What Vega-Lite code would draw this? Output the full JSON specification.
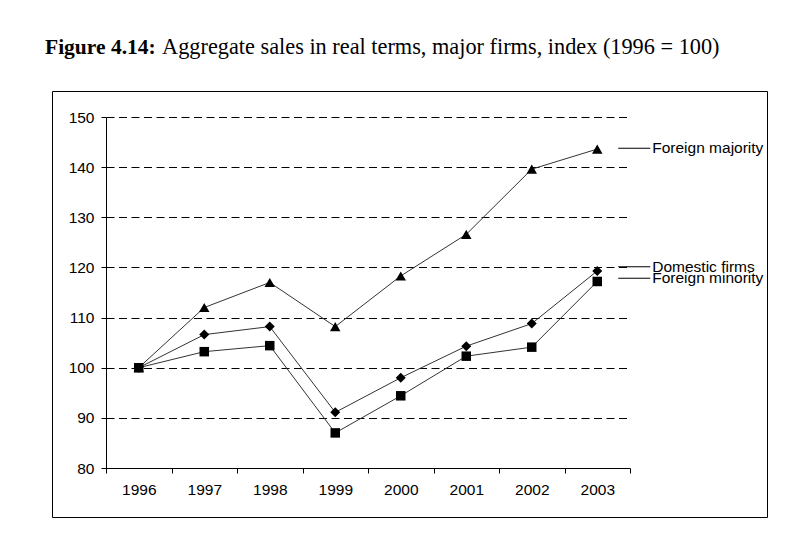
{
  "$schema": "https://vega.github.io/schema/vega-lite/v6.json",
  "width": 715,
  "height": 426,
  "autosize": {"type": "none"},
  "padding": {"left": 52, "top": 91, "right": 28, "bottom": 29},
  "background": "white",
  "config": {
    "view": {"stroke": "black", "strokeWidth": 1},
    "axis": {"labelFont": "Liberation Sans", "labelFontSize": 15.5, "labelColor": "black", "domainColor": "black", "tickColor": "black", "domainWidth": 1, "tickWidth": 1, "tickSize": 5}
  },
  "title": {
    "text": "Figure 4.14:",
    "subtitle": "\u200b\u2003\u2003\u2003\u2003\u2003\u00a0Aggregate sales in real terms, major firms, index (1996 = 100)",
    "anchor": "start",
    "frame": "group",
    "font": "Liberation Serif",
    "fontSize": 21.5,
    "fontWeight": "bold",
    "color": "black",
    "subtitleFont": "Liberation Serif",
    "subtitleFontSize": 22.3,
    "subtitleFontWeight": "normal",
    "subtitleColor": "black",
    "subtitlePadding": -22,
    "offset": 32,
    "dx": -7
  },
  "datasets": {
    "series": [
      {"year": "1996", "series": "Foreign majority", "value": 100},
      {"year": "1997", "series": "Foreign majority", "value": 112},
      {"year": "1998", "series": "Foreign majority", "value": 117},
      {"year": "1999", "series": "Foreign majority", "value": 108.2},
      {"year": "2000", "series": "Foreign majority", "value": 118.3},
      {"year": "2001", "series": "Foreign majority", "value": 126.6},
      {"year": "2002", "series": "Foreign majority", "value": 139.6},
      {"year": "2003", "series": "Foreign majority", "value": 143.6},
      {"year": "1996", "series": "Domestic firms", "value": 100},
      {"year": "1997", "series": "Domestic firms", "value": 106.6},
      {"year": "1998", "series": "Domestic firms", "value": 108.2},
      {"year": "1999", "series": "Domestic firms", "value": 91.1},
      {"year": "2000", "series": "Domestic firms", "value": 98},
      {"year": "2001", "series": "Domestic firms", "value": 104.3},
      {"year": "2002", "series": "Domestic firms", "value": 108.8},
      {"year": "2003", "series": "Domestic firms", "value": 119.3},
      {"year": "1996", "series": "Foreign minority", "value": 100},
      {"year": "1997", "series": "Foreign minority", "value": 103.2},
      {"year": "1998", "series": "Foreign minority", "value": 104.4},
      {"year": "1999", "series": "Foreign minority", "value": 87},
      {"year": "2000", "series": "Foreign minority", "value": 94.4},
      {"year": "2001", "series": "Foreign minority", "value": 102.3},
      {"year": "2002", "series": "Foreign minority", "value": 104.1},
      {"year": "2003", "series": "Foreign minority", "value": 117.2}
    ],
    "labels": [
      {"year": "2003", "series": "Foreign majority", "value": 143.76},
      {"year": "2003", "series": "Domestic firms", "value": 120.15},
      {"year": "2003", "series": "Foreign minority", "value": 117.83}
    ]
  },
  "encoding": {
    "x": {
      "field": "year", "type": "ordinal",
      "scale": {"type": "band", "range": [54, 578], "paddingInner": 0, "paddingOuter": 0},
      "axis": {"title": null, "labelAngle": 0, "tickBand": "extent", "offset": -49, "labelPadding": 9, "grid": false}
    },
    "y": {
      "field": "value", "type": "quantitative",
      "scale": {"domain": [80, 150], "range": [377, 26], "nice": false, "zero": false},
      "axis": {"title": null, "values": [80, 90, 100, 110, 120, 130, 140, 150], "offset": -54, "labelPadding": 7, "grid": true, "gridColor": "black", "gridDash": [8, 4.5], "gridWidth": 1}
    }
  },
  "layer": [
    {
      "data": {"name": "series"},
      "mark": {"type": "line", "color": "#333", "strokeWidth": 1},
      "encoding": {"detail": {"field": "series"}}
    },
    {
      "data": {"name": "series"},
      "mark": {"type": "point", "filled": true, "opacity": 1, "color": "black"},
      "encoding": {
        "shape": {"field": "series", "type": "nominal", "scale": {"domain": ["Foreign majority", "Domestic firms", "Foreign minority"], "range": ["triangle-up", "diamond", "square"]}, "legend": null},
        "size": {"field": "series", "type": "nominal", "scale": {"domain": ["Foreign majority", "Domestic firms", "Foreign minority"], "range": [110, 90, 85]}, "legend": null}
      }
    },
    {
      "data": {"name": "labels"},
      "mark": {"type": "tick", "orient": "horizontal", "size": 32, "thickness": 1, "color": "black", "opacity": 1, "xOffset": 37},
      "encoding": {}
    },
    {
      "data": {"name": "labels"},
      "mark": {"type": "text", "align": "left", "baseline": "middle", "dx": 55, "font": "Liberation Sans", "fontSize": 15.5, "color": "black"},
      "encoding": {"text": {"field": "series"}}
    }
  ]
}
